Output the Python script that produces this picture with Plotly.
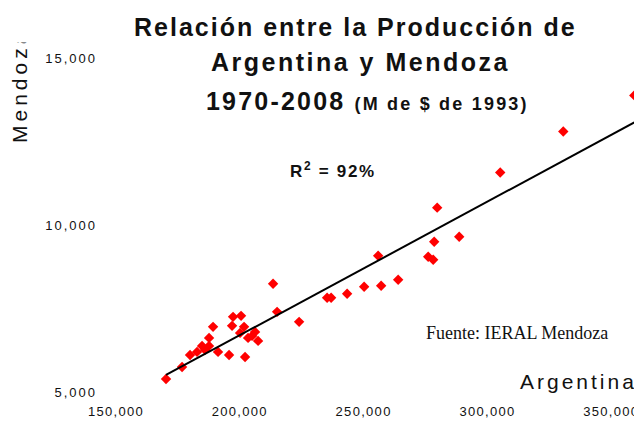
import plotly.graph_objects as go

# Producción (M de $ de 1993), 1970-2008
argentina = [
    170200, 176670, 179900, 182730, 184750, 185960, 187580, 187580, 189190, 191210,
    195660, 196870, 197270, 200500, 200100, 201720, 202120, 203330, 204950, 206160,
    207370, 213430, 215050, 223940, 235250, 236870, 243330, 250200, 257070, 255860,
    263940, 276060, 278080, 278490, 279700, 288590, 305150, 330610, 359290,
]
mendoza = [
    5390, 5750, 6110, 6200, 6380, 6260, 6380, 6620, 6950, 6200,
    6110, 6980, 7250, 7280, 6770, 6950, 6050, 6620, 6680, 6800,
    6530, 8240, 7400, 7100, 7820, 7820, 7940, 8150, 8180, 9080,
    8360, 9050, 8960, 9500, 10520, 9650, 11570, 12800, 13880,
]
# trend line end points as drawn
trend_x = [170200, 359290]
trend_y = [5510, 13070]

x_ticks = [150000, 200000, 250000, 300000, 350000]
y_ticks = [5000, 10000, 15000]

FONT = "Liberation Sans, Arial, sans-serif"
PAGE = 8  # default body margin of the html page


def spaced(text, px):
    return f"<span style='letter-spacing:{px}px'>{text}</span>"


def fmt(v):
    return f"{v:,}"


fig = go.Figure()
fig.add_trace(go.Scatter(
    x=argentina, y=mendoza, mode="markers",
    marker=dict(symbol="diamond", color="#ff0000", size=8, line=dict(width=0)),
    showlegend=False,
))
fig.add_trace(go.Scatter(
    x=trend_x, y=trend_y, mode="lines",
    line=dict(color="black", width=2),
    showlegend=False,
))

fig.update_layout(
    width=642 - PAGE, height=421 - PAGE,
    margin=dict(l=116 - PAGE, r=1, t=58 - PAGE, b=29),
    paper_bgcolor="white", plot_bgcolor="white",
    font=dict(family=FONT, color="#111"),
    xaxis=dict(
        range=[150000, 362000], showgrid=False, zeroline=False, showline=False,
        tickvals=x_ticks, ticktext=[spaced(fmt(v), 1.3) for v in x_ticks],
        tickfont=dict(size=13), ticklabelstandoff=10,
    ),
    yaxis=dict(
        range=[5000, 15000], showgrid=False, zeroline=False, showline=False,
        tickvals=y_ticks, ticktext=[spaced(fmt(v), 2) for v in y_ticks],
        tickfont=dict(size=13), ticklabelstandoff=18,
    ),
)


# positions below are screen pixels of the reference picture
def px_x(px):
    return (px - 116) / 525


def px_y(py):
    return (392 - py) / 334


def note(text, px, py, size, **kw):
    fig.add_annotation(
        xref="paper", yref="paper", x=px_x(px), y=px_y(py),
        text=text, showarrow=False,
        font=dict(size=size, family=kw.pop("family", FONT), color="#111"),
        xanchor=kw.pop("xanchor", "center"), yanchor=kw.pop("yanchor", "middle"), **kw,
    )


note(spaced("<b>Relación entre la Producción de</b>", 2), 355, 27, 25)
note(spaced("<b>Argentina y Mendoza</b>", 2.5), 360, 62, 25)
note(spaced("<b>1970-2008</b> <b><span style='font-size:18px'>(M de $ de 1993)</span></b>", 2.2), 367, 101, 25)
note(spaced("<b>R<sup>2</sup> = 92%</b>", 1.7), 333, 170, 17)
note("Fuente: IERAL Mendoza", 517, 333, 18, family="Liberation Serif, Times New Roman, serif")
note(spaced("Argentina", 3), 578, 381, 21)
note(spaced("Mendoza", 4), 19, 145, 21, textangle=-90, yanchor="bottom")
# the reference clips the top of the vertical label
fig.add_annotation(
    xref="paper", yref="paper", x=px_x(PAGE), y=px_y(PAGE), xanchor="left", yanchor="top",
    text=" ", showarrow=False, width=40, height=41 - PAGE, bgcolor="white", borderpad=0,
)

fig.write_html("out.html")
